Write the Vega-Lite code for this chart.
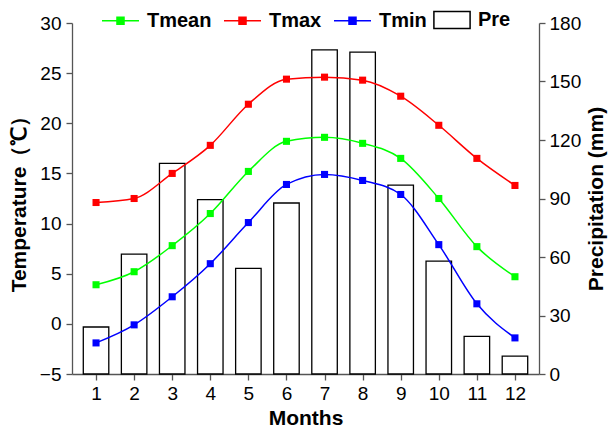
{
  "$schema": "https://vega.github.io/schema/vega-lite/v6.json",
  "autosize": {"type": "none"},
  "width": 467,
  "height": 351,
  "padding": {"left": 72, "top": 23, "right": 72, "bottom": 59},
  "background": "white",
  "config": {
    "font": "Liberation Sans",
    "view": {"stroke": null},
    "axis": {
      "grid": false,
      "domainColor": "#555555",
      "domainWidth": 1.3,
      "tickColor": "#555555",
      "tickWidth": 1.3,
      "tickSize": 6,
      "labelColor": "black",
      "labelFontSize": 19,
      "titleColor": "black",
      "titleFontSize": 21,
      "titleFontWeight": "bold"
    }
  },
  "datasets": {
    "temps": [
      {"month": 1, "series": "Tmax", "value": 12.1},
      {"month": 2, "series": "Tmax", "value": 12.5},
      {"month": 3, "series": "Tmax", "value": 15.0},
      {"month": 4, "series": "Tmax", "value": 17.8},
      {"month": 5, "series": "Tmax", "value": 21.9},
      {"month": 6, "series": "Tmax", "value": 24.4},
      {"month": 7, "series": "Tmax", "value": 24.6},
      {"month": 8, "series": "Tmax", "value": 24.3},
      {"month": 9, "series": "Tmax", "value": 22.7},
      {"month": 10, "series": "Tmax", "value": 19.8},
      {"month": 11, "series": "Tmax", "value": 16.5},
      {"month": 12, "series": "Tmax", "value": 13.8},
      {"month": 1, "series": "Tmean", "value": 3.9},
      {"month": 2, "series": "Tmean", "value": 5.2},
      {"month": 3, "series": "Tmean", "value": 7.8},
      {"month": 4, "series": "Tmean", "value": 11.0},
      {"month": 5, "series": "Tmean", "value": 15.2},
      {"month": 6, "series": "Tmean", "value": 18.2},
      {"month": 7, "series": "Tmean", "value": 18.6},
      {"month": 8, "series": "Tmean", "value": 18.0},
      {"month": 9, "series": "Tmean", "value": 16.5},
      {"month": 10, "series": "Tmean", "value": 12.5},
      {"month": 11, "series": "Tmean", "value": 7.7},
      {"month": 12, "series": "Tmean", "value": 4.7},
      {"month": 1, "series": "Tmin", "value": -1.9},
      {"month": 2, "series": "Tmin", "value": -0.1},
      {"month": 3, "series": "Tmin", "value": 2.7},
      {"month": 4, "series": "Tmin", "value": 6.0},
      {"month": 5, "series": "Tmin", "value": 10.1},
      {"month": 6, "series": "Tmin", "value": 13.9},
      {"month": 7, "series": "Tmin", "value": 14.9},
      {"month": 8, "series": "Tmin", "value": 14.3},
      {"month": 9, "series": "Tmin", "value": 12.9},
      {"month": 10, "series": "Tmin", "value": 7.9},
      {"month": 11, "series": "Tmin", "value": 2.0},
      {"month": 12, "series": "Tmin", "value": -1.4}
    ],
    "pre": [
      {"month": 1, "Pre": 24.1},
      {"month": 2, "Pre": 61.5},
      {"month": 3, "Pre": 108.0},
      {"month": 4, "Pre": 89.4},
      {"month": 5, "Pre": 54.2},
      {"month": 6, "Pre": 87.7},
      {"month": 7, "Pre": 166.2},
      {"month": 8, "Pre": 165.1},
      {"month": 9, "Pre": 96.9},
      {"month": 10, "Pre": 57.9},
      {"month": 11, "Pre": 19.3},
      {"month": 12, "Pre": 9.2}
    ]
  },
  "layer": [
    {
      "data": {"name": "pre"},
      "mark": {"type": "bar", "size": 25.5, "fill": "white", "strokeWidth": 1.3},
      "encoding": {
        "x": {
          "field": "month", "type": "quantitative",
          "scale": {"domain": [0.5, 12.5], "nice": false, "zero": false},
          "axis": {"values": [1,2,3,4,5,6,7,8,9,10,11,12], "title": "Months", "labelPadding": 4, "titlePadding": 4}
        },
        "y": {
          "field": "Pre", "type": "quantitative",
          "scale": {"domain": [0, 180], "nice": false},
          "axis": {"orient": "right", "values": [0,30,60,90,120,150,180], "title": "Precipitation (mm)", "titleAngle": 270, "titleBaseline": "top", "labelPadding": 4, "titlePadding": 5}
        },
        "stroke": {
          "datum": "Pre",
          "scale": {"domain": ["Pre"], "range": ["black"]},
          "legend": {
            "title": null,
            "orient": "none",
            "legendX": 361,
            "legendY": -22,
            "symbolType": "M-1,-0.47H1V0.47H-1Z",
            "symbolSize": 1310,
            "symbolFillColor": "white",
            "symbolStrokeWidth": 1.5,
            "labelFontSize": 20,
            "labelFontWeight": "bold",
            "labelColor": "black",
            "labelOffset": 7
          }
        }
      }
    },
    {
      "data": {"name": "temps"},
      "mark": {"type": "line", "strokeWidth": 1.5, "interpolate": "monotone", "point": {"shape": "square", "size": 50, "filled": true, "opacity": 1}},
      "encoding": {
        "x": {"field": "month", "type": "quantitative"},
        "y": {
          "field": "value", "type": "quantitative",
          "scale": {"domain": [-5, 30], "nice": false, "zero": false},
          "axis": {"orient": "left", "values": [-5,0,5,10,15,20,25,30], "title": "Temperature（℃）", "labelPadding": 5, "titlePadding": 10}
        },
        "color": {
          "field": "series", "type": "nominal",
          "scale": {"domain": ["Tmean", "Tmax", "Tmin"], "range": ["#00ff00", "#ff0000", "#0000ff"]},
          "legend": {
            "title": null,
            "orient": "none",
            "direction": "horizontal",
            "legendX": 29,
            "legendY": -22,
            "symbolType": "M-1,0H1M-0.19,-0.19H0.19V0.19H-0.19Z",
            "symbolSize": 1369,
            "symbolStrokeWidth": 1.5,
            "labelFontSize": 20,
            "labelFontWeight": "bold",
            "labelColor": "black",
            "labelOffset": 7,
            "columnPadding": 9,
            "encode": {"symbols": {"update": {"fill": {"scale": "color", "field": "value"}, "stroke": {"scale": "color", "field": "value"}, "opacity": {"value": 1}}}}
          }
        }
      }
    }
  ],
  "resolve": {"scale": {"y": "independent"}}
}
